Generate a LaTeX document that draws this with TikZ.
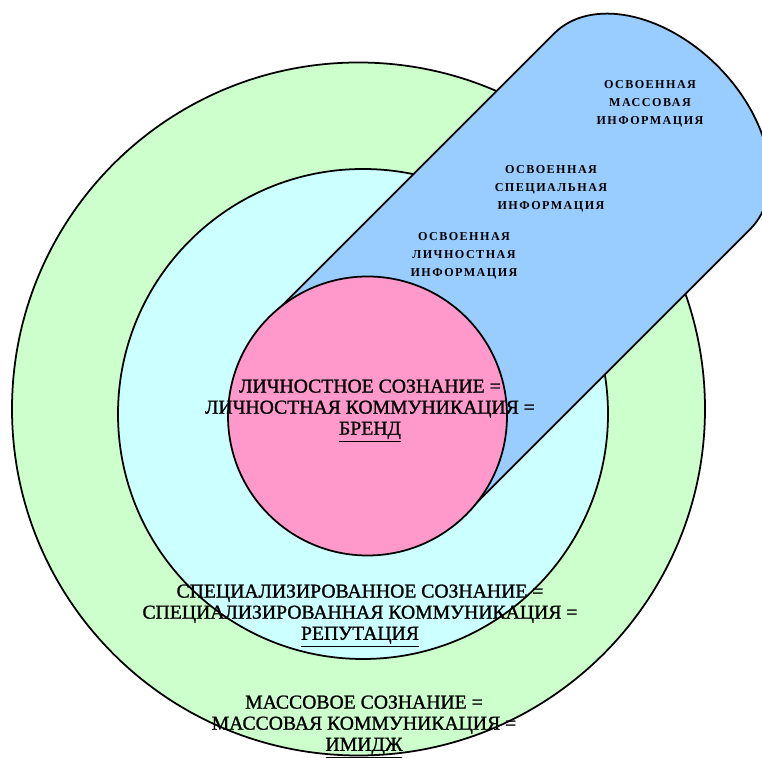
\documentclass[tikz,border=0pt]{standalone}
\usepackage{fontspec}
\setmainfont{Liberation Serif}
\newfontfamily\zonefont[FakeBold=1.2]{Liberation Serif}
\newfontfamily\spacedfont[LetterSpace=12]{Liberation Serif}

\definecolor{massgreen}{HTML}{CCFFCC}
\definecolor{specialcyan}{HTML}{CCFFFF}
\definecolor{personalpink}{HTML}{FF99CC}
\definecolor{bandblue}{HTML}{99CCFF}

\tikzset{
  zone/.style={align=center,inner sep=0pt,font=\zonefont\fontsize{11.2}{12}\selectfont},
  learned/.style={align=center,inner sep=0pt,font=\spacedfont\bfseries\fontsize{6.9}{10.2}\selectfont},
}

\begin{document}
\begin{tikzpicture}

      \useasboundingbox (0,0) rectangle (15.24,15.16);
      \coordinate (core) at (7.35,6.84);

      \begin{scope}[every node/.style={circle,draw,line width=1pt,inner sep=0pt}]
        \node[fill=massgreen,minimum size=13.86cm] (mass) at (7.17,6.98) {};
        \node[fill=specialcyan,minimum size=9.8cm] (special) at (7.26,6.88) {};
      \end{scope}

      % band of learned information
      \begin{scope}[shift={(core)},rotate=45]
        \draw[line width=1pt,fill=bandblue] (0,-2.77) -- (8.05,-2.77)
          arc[start angle=-90,end angle=90,x radius=1.85,y radius=2.77]
          -- (0,2.77) arc[start angle=90,end angle=270,radius=2.77] -- cycle;
      \end{scope}

      \node[circle,draw,line width=1pt,inner sep=0pt,fill=personalpink,minimum size=5.58cm] (personal) at (core) {};

      \begin{scope}[every node/.style={learned}]
        \node (learnedmass)     at (13.00,13.08) {ОСВОЕННАЯ\\МАССОВАЯ\\ИНФОРМАЦИЯ};
        \node (learnedspecial)  at (11.02,11.38) {ОСВОЕННАЯ\\СПЕЦИАЛЬНАЯ\\ИНФОРМАЦИЯ};
        \node (learnedpersonal) at (9.28,10.05)  {ОСВОЕННАЯ\\ЛИЧНОСТНАЯ\\ИНФОРМАЦИЯ};
      \end{scope}

      \begin{scope}[every node/.style={zone}]
        \node (personaltext) at (7.40,6.94) {ЛИЧНОСТНОЕ СОЗНАНИЕ =\\ЛИЧНОСТНАЯ КОММУНИКАЦИЯ =\\\underline{БРЕНД}};
        \node (specialtext)  at (7.20,2.84) {СПЕЦИАЛИЗИРОВАННОЕ СОЗНАНИЕ =\\СПЕЦИАЛИЗИРОВАННАЯ КОММУНИКАЦИЯ =\\\underline{РЕПУТАЦИЯ}};
        \node (masstext)     at (7.28,0.62) {МАССОВОЕ СОЗНАНИЕ =\\МАССОВАЯ КОММУНИКАЦИЯ =\\\underline{ИМИДЖ}};
      \end{scope}

    \end{tikzpicture}
\end{document}
